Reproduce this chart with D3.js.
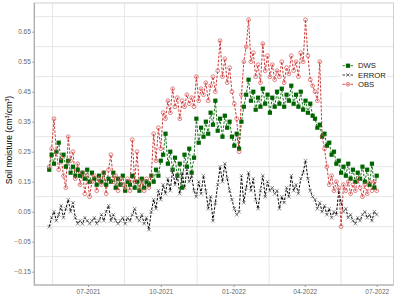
<!DOCTYPE html>
<html><head><meta charset="utf-8">
<script src="https://cdn.jsdelivr.net/npm/d3@7"></script>
<style>body{margin:0;background:#fff}svg{display:block}text{font-family:"Liberation Sans",Arial,sans-serif}</style>
</head><body><svg id="c" width="397" height="297"></svg>
<script>
// Observations every 3 days starting 2021-05-13
const startDate = "2021-05-13";
const stepDays = 3;
const obs = [0.20,0.26,0.36,0.25,0.19,0.23,0.17,0.13,0.30,0.22,0.25,0.16,0.21,0.14,0.18,0.11,0.17,0.10,0.15,0.17,
0.12,0.16,0.14,0.18,0.11,0.19,0.24,0.15,0.17,0.12,0.16,0.14,0.13,0.16,0.12,0.29,0.15,0.25,0.13,0.15,
0.12,0.16,0.13,0.17,0.31,0.22,0.33,0.26,0.38,0.36,0.42,0.38,0.46,0.40,0.43,0.36,0.42,0.40,0.44,0.41,
0.43,0.40,0.50,0.42,0.46,0.44,0.48,0.42,0.47,0.50,0.45,0.52,0.62,0.50,0.56,0.48,0.53,0.45,0.41,0.36,
0.25,0.44,0.55,0.60,0.69,0.55,0.58,0.50,0.54,0.48,0.61,0.52,0.57,0.50,0.54,0.49,0.52,0.50,0.55,0.48,
0.53,0.51,0.57,0.52,0.55,0.50,0.58,0.55,0.69,0.57,0.49,0.47,0.45,0.42,0.55,0.30,0.26,0.20,0.14,0.17,
0.12,0.15,0.13,0.00,0.14,0.12,0.15,0.11,0.14,0.12,0.16,0.13,0.10,0.14,0.11,0.15,0.12,0.15,0.12];
const dws = [0.19,0.24,0.21,0.25,0.28,0.22,0.24,0.20,0.22,0.18,0.20,0.17,0.19,0.17,0.18,0.16,0.19,0.15,0.18,0.16,
0.14,0.17,0.15,0.18,0.14,0.16,0.15,0.18,0.13,0.16,0.14,0.17,0.12,0.15,0.14,0.17,0.13,0.15,0.12,0.16,
0.13,0.15,0.14,0.17,0.15,0.19,0.17,0.22,0.24,0.31,0.21,0.25,0.19,0.23,0.17,0.21,0.13,0.24,0.20,0.26,
0.18,0.23,0.36,0.28,0.33,0.30,0.35,0.31,0.38,0.34,0.42,0.32,0.36,0.30,0.37,0.33,0.35,0.30,0.27,0.31,
0.26,0.35,0.40,0.44,0.49,0.42,0.45,0.39,0.43,0.40,0.46,0.41,0.44,0.38,0.43,0.40,0.45,0.41,0.46,0.40,
0.44,0.42,0.47,0.41,0.44,0.40,0.45,0.39,0.42,0.38,0.41,0.37,0.36,0.33,0.34,0.30,0.31,0.27,0.28,0.24,
0.25,0.21,0.22,0.18,0.20,0.17,0.21,0.16,0.19,0.15,0.18,0.16,0.20,0.15,0.19,0.14,0.21,0.13,0.17];
const err = [0.00,0.03,0.05,0.02,0.04,0.07,0.03,0.06,0.09,0.05,0.08,0.03,0.01,0.02,0.01,0.03,0.02,0.01,0.02,0.03,
0.01,0.02,0.04,0.02,0.05,0.07,0.02,0.04,0.02,0.01,0.02,0.03,0.01,0.03,0.02,0.04,0.06,0.03,0.02,0.04,
0.01,0.03,-0.01,0.05,0.09,0.06,0.12,0.09,0.14,0.11,0.16,0.12,0.19,0.14,0.17,0.11,0.18,0.13,0.19,0.15,
0.17,0.12,0.10,0.15,0.11,0.17,0.12,0.06,0.10,0.02,0.08,0.14,0.20,0.15,0.21,0.16,0.12,0.09,0.06,0.04,
0.05,0.17,0.08,0.13,0.18,0.12,0.16,0.09,0.06,0.12,0.17,0.10,0.15,0.12,0.13,0.11,0.12,0.06,0.10,0.08,
0.13,0.10,0.17,0.12,0.14,0.11,0.16,0.18,0.22,0.16,0.12,0.10,0.09,0.06,0.08,0.05,0.07,0.04,0.06,0.03,
0.05,0.04,0.12,0.08,0.05,0.06,0.03,0.04,0.02,0.01,0.03,0.02,0.04,0.05,0.03,0.04,0.02,0.05,0.04];
const yTicks = [-0.15,-0.05,0.05,0.15,0.25,0.35,0.45,0.55,0.65];
const yGrid = [-0.1,0.0,0.1,0.2,0.3,0.4,0.5,0.6,0.7];
const xTickDates = ["2021-07-01","2021-10-01","2022-01-01","2022-04-01","2022-07-01"];
const xGridDates = ["2021-05-17","2021-08-16","2021-11-16","2022-02-15","2022-05-17"];
const seriesNames = ["DWS","ERROR","OBS"];

const parse = d3.utcParse("%Y-%m-%d");
const t0 = parse(startDate);
const dates = obs.map((_, i) => d3.utcDay.offset(t0, i * stepDays));

const svg = d3.select("#c");
const L = 34.3, R = 393.5, T = 3, B = 285;
const x = d3.scaleUtc().domain([parse("2021-07-01"), parse("2022-07-01")]).range([88, 376.7]);
const y = d3.scaleLinear().domain([0, 0.1]).range([226.7, 196.7]);

// grid
const g = svg.append("g");
g.selectAll("line.h").data(yGrid).join("line")
  .attr("x1", L).attr("x2", R).attr("y1", d => y(d)).attr("y2", d => y(d))
  .attr("stroke", "#e3e3e3").attr("stroke-width", 0.9);
g.selectAll("line.v").data(xGridDates).join("line")
  .attr("y1", T).attr("y2", B).attr("x1", d => x(parse(d))).attr("x2", d => x(parse(d)))
  .attr("stroke", "#e3e3e3").attr("stroke-width", 0.9);

// panel border
svg.append("rect").attr("x", L).attr("y", T).attr("width", R - L).attr("height", B - T)
  .attr("fill", "none").attr("stroke", "#c4c4c4").attr("stroke-width", 0.8);

// axes
const yAxis = d3.axisLeft(y).tickValues(yTicks).tickSize(2).tickPadding(1.5).tickFormat(d3.format(".2f"));
const ya = svg.append("g").attr("transform", `translate(${L},0)`).call(yAxis);
const xAxis = d3.axisBottom(x).tickValues(xTickDates.map(parse)).tickSize(2).tickPadding(2.5).tickFormat(d3.utcFormat("%m-%Y"));
const xa = svg.append("g").attr("transform", `translate(0,${B})`).call(xAxis);
[ya, xa].forEach(a => {
  a.select(".domain").remove();
  a.selectAll(".tick line").attr("stroke", "#999");
  a.selectAll("text").attr("fill", "#666").style("font-size", "6.5px").style("font-family", '"Liberation Sans",Arial,sans-serif');
});
svg.append("line").attr("x1", L).attr("x2", L).attr("y1", T).attr("y2", B + 0.5).attr("stroke", "#a8a8a8").attr("stroke-width", 1.2);
svg.append("line").attr("x1", L).attr("x2", R).attr("y1", B).attr("y2", B).attr("stroke", "#a8a8a8").attr("stroke-width", 1.2);

// y title
const yt = svg.append("text").attr("transform", "translate(11.5,140) rotate(-90)")
  .attr("text-anchor", "middle").style("font-size", "8.5px").attr("fill", "#000");
yt.append("tspan").text("Soil moisture (cm");
yt.append("tspan").attr("dy", -3).style("font-size", "5.5px").text("3");
yt.append("tspan").attr("dy", 3).text("/cm");
yt.append("tspan").attr("dy", -3).style("font-size", "5.5px").text("3");
yt.append("tspan").attr("dy", 3).text(")");

// series
const plot = svg.append("g");
const data = {
  DWS: dws.map((v, i) => [dates[i], v]),
  ERROR: err.map((v, i) => [dates[i], v]),
  OBS: obs.map((v, i) => [dates[i], v])
};
const lineCol = {DWS: "#006400", ERROR: "#000", OBS: "#c82020"};
const lineW = {DWS: 0.9, ERROR: 1.0, OBS: 0.9};
const line = d3.line().x(d => x(d[0])).y(d => y(d[1]));
seriesNames.forEach(s => {
  plot.append("path").datum(data[s]).attr("d", line).attr("fill", "none")
    .attr("stroke", lineCol[s]).attr("stroke-width", lineW[s]).attr("stroke-dasharray", "2.5,1.5");
});
function drawPoint(sel, s) {
  if (s === "DWS") {
    sel.append("rect").attr("x", -2.1).attr("y", -2.1).attr("width", 4.2).attr("height", 4.2).attr("fill", "#006400");
  } else if (s === "ERROR") {
    sel.append("path").attr("d", "M-1.8,-1.8L1.8,1.8M-1.8,1.8L1.8,-1.8").attr("stroke", "#666").attr("stroke-width", 0.7);
  } else {
    sel.append("circle").attr("r", 1.9).attr("fill", "none").attr("stroke", "#d85858").attr("stroke-width", 0.75);
  }
}
seriesNames.forEach(s => {
  plot.append("g").selectAll("g").data(data[s]).join("g")
    .attr("transform", d => `translate(${x(d[0])},${y(d[1])})`)
    .each(function() { drawPoint(d3.select(this), s); });
});

// legend
const lg = svg.append("g");
lg.append("rect").attr("x", 340).attr("y", 58).attr("width", 47).attr("height", 34).attr("fill", "#fff");
seriesNames.forEach((s, i) => {
  const cy = 65.7 + i * 9.3;
  const it = lg.append("g").attr("transform", `translate(348,${cy})`);
  it.append("line").attr("x1", -5.5).attr("x2", 5.5).attr("stroke", lineCol[s]).attr("stroke-width", 0.8).attr("stroke-dasharray", "2.5,1.5");
  drawPoint(it, s);
  lg.append("text").attr("x", 358).attr("y", cy).attr("dy", "0.35em").style("font-size", "7.7px").attr("fill", "#222").text(s);
});
</script></body></html>
